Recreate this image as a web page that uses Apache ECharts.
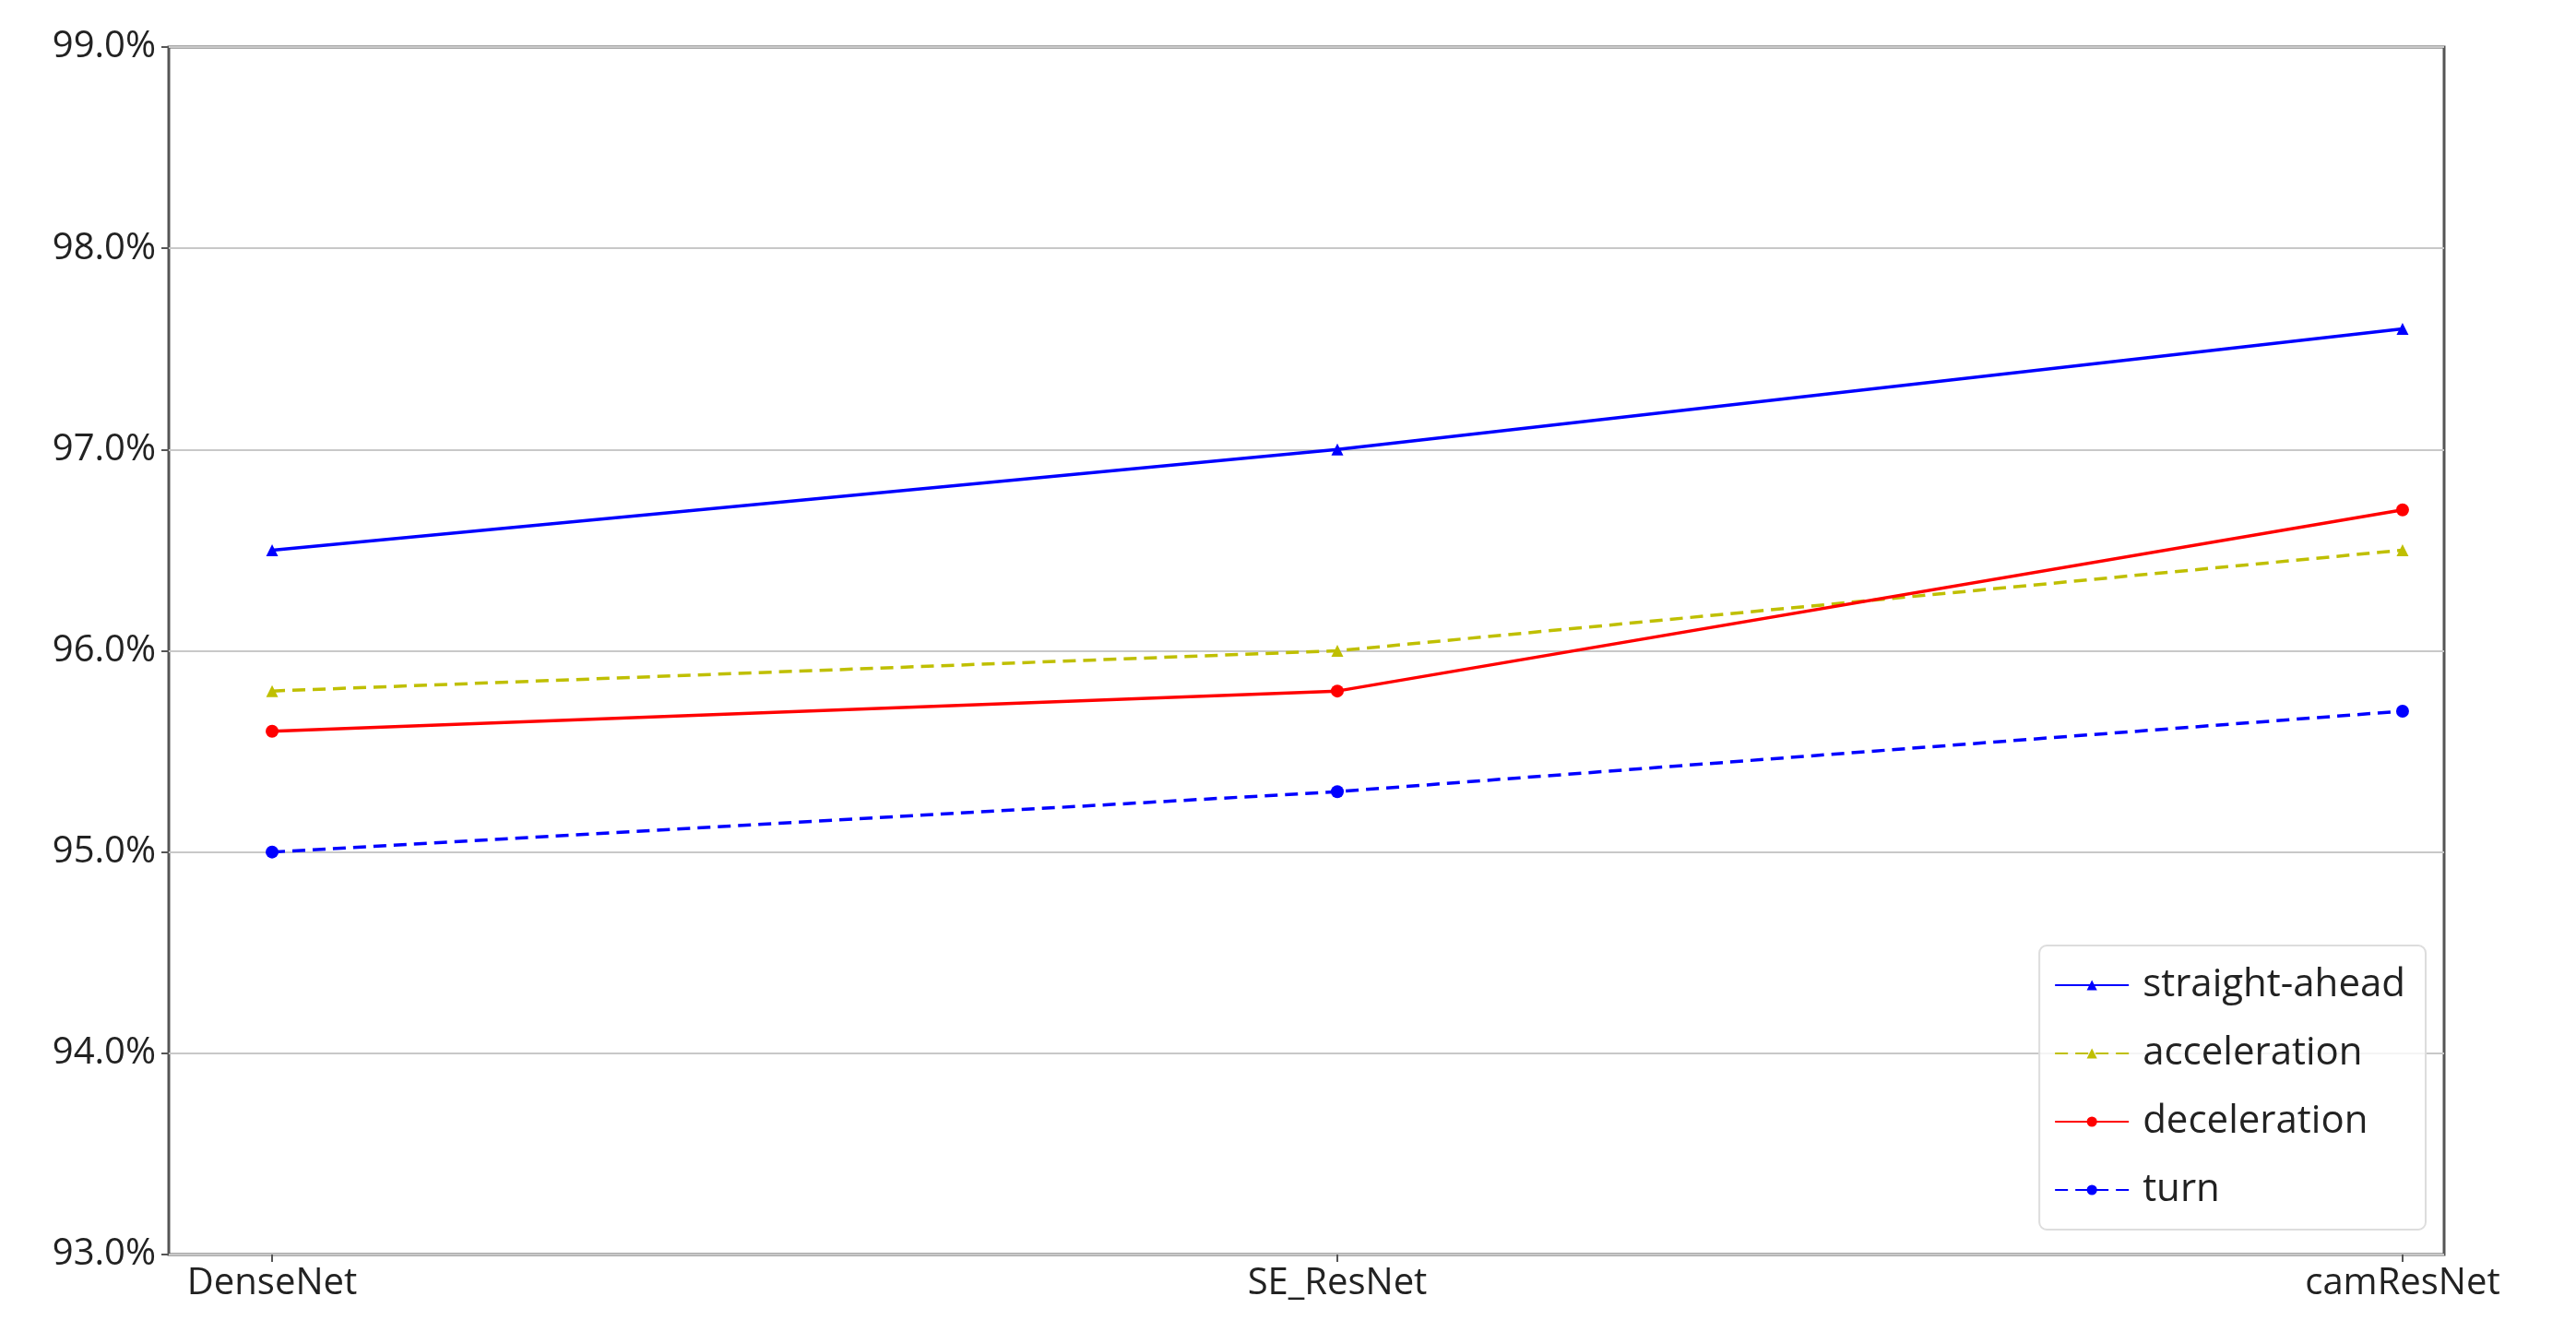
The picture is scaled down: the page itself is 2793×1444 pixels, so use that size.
<!DOCTYPE html><html><head><meta charset="utf-8">
<script src="https://cdn.jsdelivr.net/npm/echarts@6/dist/echarts.min.js"></script>
<style>html,body{margin:0;background:#fff}#c{width:2793px;height:1444px}</style></head><body><div id="c"></div>
<script>
const categories=['DenseNet','SE_ResNet','camResNet'];
const straightAhead=[96.5,97.0,97.6];
const acceleration=[95.8,96.0,96.5];
const deceleration=[95.6,95.8,96.7];
const turn=[95.0,95.3,95.7];
const yTicks=[93,94,95,96,97,98,99];
const F='Open Sans';
const pts=a=>a.map((v,i)=>[i,v]);
const mk=(name,data,color,dashed,sym)=>({name,type:'line',data:pts(data),symbol:sym,symbolSize:sym==='triangle'?13:14,
 lineStyle:{color,width:3.5,type:dashed?[14,8]:'solid'},itemStyle:{color},z:dashed?3:4});
const ch=echarts.init(document.getElementById('c'));
ch.setOption({animation:false,
grid:{left:183,right:143,top:51,bottom:84,show:true,borderColor:'#555',borderWidth:3,backgroundColor:'transparent'},
xAxis:{type:'value',min:-0.097,max:2.039,splitLine:{show:false},axisLine:{show:false,onZero:false},
 axisTick:{show:true,customValues:[0,1,2],length:8,lineStyle:{color:'#555',width:2}},
 axisLabel:{customValues:[0,1,2],formatter:v=>categories[Math.round(v)],fontFamily:F,fontSize:40,color:'#222',margin:12}},
yAxis:{type:'value',min:93,max:99,interval:1,axisLine:{show:false,onZero:false},
 axisTick:{show:true,length:8,lineStyle:{color:'#555',width:2}},
 splitLine:{lineStyle:{color:'#c8c8c8',width:2}},
 axisLabel:{customValues:yTicks,formatter:v=>v.toFixed(1)+'%',fontFamily:F,fontSize:40,color:'#222',margin:14}},
legend:{right:163,bottom:111,orient:'vertical',itemGap:32,itemWidth:80,itemHeight:14,
 backgroundColor:'rgba(255,255,255,0.8)',borderColor:'#ddd',borderWidth:2,borderRadius:8,padding:[22,22,22,16],
 textStyle:{fontFamily:F,fontSize:42,color:'#222',padding:[0,0,0,10]},
 data:['straight-ahead','acceleration','deceleration','turn']},
series:[mk('straight-ahead',straightAhead,'#0000ff',false,'triangle'),
 mk('acceleration',acceleration,'#bfbf00',true,'triangle'),
 mk('deceleration',deceleration,'#ff0000',false,'circle'),
 mk('turn',turn,'#0000ff',true,'circle')]});
</script></body></html>
